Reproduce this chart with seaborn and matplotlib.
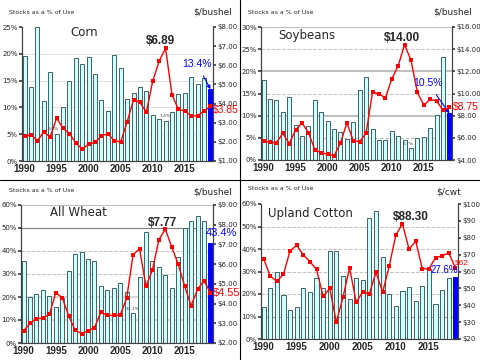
import matplotlib
matplotlib.use('Agg')
import matplotlib.pyplot as plt
import numpy as np
import seaborn as sns
from matplotlib.lines import Line2D


years = list(range(1990, 2020))

corn_stocks = [19.5, 13.8, 25.0, 11.2, 16.6, 5.0, 10.0, 15.0, 19.2, 18.1,
               19.4, 16.3, 11.4, 9.4, 19.8, 17.3, 11.6, 12.7, 13.8, 13.1,
               8.6, 7.9, 7.4, 9.1, 12.5, 12.7, 15.6, 14.4, 15.5, 13.4]
corn_price = [2.28, 2.37, 2.07, 2.50, 2.26, 3.24, 2.71, 2.43, 1.94, 1.62,
              1.88, 1.97, 2.32, 2.42, 2.06, 2.00, 3.04, 4.20, 4.06, 3.55,
              5.18, 6.22, 6.89, 4.46, 3.70, 3.61, 3.36, 3.36, 3.61, 3.85]

soy_stocks = [18.0, 13.8, 13.6, 10.9, 14.3, 8.0, 5.5, 7.7, 13.6, 10.8,
              8.9, 7.1, 6.4, 4.7, 8.6, 15.9, 18.7, 6.9, 4.6, 4.6,
              6.6, 5.5, 4.6, 2.7, 5.0, 5.1, 7.3, 10.2, 23.2, 10.5]
soy_price = [5.74, 5.58, 5.56, 6.40, 5.48, 6.72, 7.35, 6.47, 4.93, 4.63,
             4.54, 4.38, 5.53, 7.34, 5.74, 5.66, 6.43, 10.10, 9.97, 9.59,
             11.30, 12.50, 14.40, 13.00, 10.10, 8.95, 9.47, 9.33, 8.48, 8.75]

wheat_stocks = [35.7, 19.8, 21.4, 23.1, 20.5, 15.8, 19.5, 31.4, 38.7, 39.6,
                36.4, 35.7, 24.7, 23.1, 24.0, 26.0, 22.2, 13.1, 28.8, 48.3,
                35.7, 33.1, 29.6, 24.0, 37.4, 50.0, 52.9, 55.2, 52.9, 43.4]
wheat_price = [2.61, 3.00, 3.24, 3.26, 3.45, 4.55, 4.30, 3.38, 2.65, 2.48,
               2.62, 2.78, 3.56, 3.40, 3.40, 3.42, 4.26, 6.48, 6.78, 4.87,
               5.70, 7.24, 7.77, 6.87, 5.99, 4.89, 3.89, 4.72, 5.16, 4.55]

cotton_stocks = [14.3, 22.7, 29.9, 19.4, 12.8, 14.2, 22.7, 20.9, 27.2, 22.7,
                 39.1, 39.1, 28.1, 17.8, 27.2, 26.1, 53.9, 57.0, 36.6, 20.0,
                 14.5, 21.3, 23.0, 16.9, 23.4, 30.9, 15.4, 21.8, 27.2, 27.6]
cotton_price = [67.6, 57.2, 54.2, 58.4, 72.3, 75.5, 69.8, 65.8, 61.2, 45.3,
                50.0, 30.0, 44.7, 62.2, 41.7, 48.0, 46.9, 59.6, 47.7, 63.2,
                81.7, 88.3, 73.1, 78.1, 61.6, 61.6, 68.2, 69.2, 71.1, 62.0]

year_ticks = [1990, 1995, 2000, 2005, 2010, 2015]

W, H = 480, 360
ARIAL = 'Liberation Sans'


def fpos(x, y):
    return x / W, 1 - y / H


def draw_panel(fig, rect, stocks, price, smax, sstep, plim, pstep, pfmt, grids):
    ax = fig.add_axes(rect)
    ax.set_axisbelow(True)
    for val, style, col, lw in grids:
        ax.axhline(val, color=col, linestyle=style, linewidth=lw, zorder=0.5)
    sns.barplot(x=years, y=stocks, native_scale=True, width=0.62,
                color='#ccffff', saturation=1, edgecolor='#3f6262',
                linewidth=0.7, ax=ax)
    last = ax.patches[-1]
    last.set_facecolor('#0000ff')
    last.set_edgecolor('#0000ff')
    ax.set_xlim(1989.6, 2019.4)
    ax.set_ylim(0, smax)
    ax.set_yticks(np.arange(0, smax + 0.1, sstep))
    ax.set_yticklabels([f'{int(v)}%' for v in np.arange(0, smax + 0.1, sstep)])
    ax.set_xticks(year_ticks)
    ax.set_xticklabels([str(y) for y in year_ticks], fontweight='bold',
                       fontsize=7, family=ARIAL)
    ax.set_xticks(years, minor=True)
    ax.tick_params(axis='y', labelsize=5, length=2, pad=1, color='#404040')
    ax.tick_params(axis='x', which='both', length=2, pad=0.5, color='#404040')
    ax.set_xlabel('')
    ax.set_ylabel('')

    ax2 = ax.twinx()
    sns.lineplot(x=years, y=price, ax=ax2, color='#ff0000', marker='s',
                 markersize=2.2, markeredgewidth=0, linewidth=1.0)
    ax2.set_ylim(*plim)
    pt = np.arange(plim[0], plim[1] + 0.01, pstep)
    ax2.set_yticks(pt)
    ax2.set_yticklabels([pfmt.format(v) for v in pt])
    ax2.tick_params(axis='y', labelsize=5, length=2, pad=1, color='#404040')
    ax2.set_ylabel('')
    ax2.set_xlabel('')
    for a in (ax, ax2):
        a.spines['top'].set_visible(False)
        for s in ('left', 'right', 'bottom'):
            a.spines[s].set_color('#404040')
            a.spines[s].set_linewidth(0.8)
    return ax, ax2


def label(fig, x, y, s, **kw):
    fx, fy = fpos(x, y)
    fig.text(fx, fy, s, ha=kw.pop('ha', 'center'), va='center', **kw)


def blue_arrow(ax, s, y, x, ty):
    ax.annotate(s, xy=(2019, y), xytext=fpos(x, ty),
                textcoords='figure fraction', ha='center', va='center',
                fontsize=7.5, color='#0000ff', family=ARIAL,
                arrowprops=dict(arrowstyle='-|>', color='#0000ff', lw=0.8,
                                mutation_scale=5, shrinkA=3, shrinkB=0))


sns.set_theme(style='white')
plt.rcParams['font.family'] = ['DejaVu Sans']

fig = plt.figure(figsize=(4.8, 3.6), dpi=100)

light = '#d9d9d9'
gray = '#c0c0c0'
peak = dict(fontsize=8.5, fontweight='bold', family=ARIAL)
red = dict(color='#ff0000', family=ARIAL)

# corn
ax, ax2 = draw_panel(fig, [22 / W, 1 - 161 / H, 191 / W, 134 / H],
                     corn_stocks, corn_price, 25, 5, (1, 8), 1, '${:.2f}',
                     [(v, '-', light, 0.6) for v in (5, 10, 15, 20)])
label(fig, 9, 12, 'Stocks as a % of Use', ha='left', fontsize=4.5)
label(fig, 213, 12, '$/bushel', fontsize=6.5)
label(fig, 84, 33, 'Corn', fontsize=8.5)
label(fig, 160, 41, '$6.89', **peak)
label(fig, 226, 110, '$3.85', fontsize=7.5, **red)
label(fig, 53, 129, '5.0%', fontsize=3.2, color='#404040')
label(fig, 165, 116, '7.4%', fontsize=3.2, color='#404040')
blue_arrow(ax, '13.4%', 13.4, 197, 64)

# soybeans
ax, ax2 = draw_panel(fig, [261 / W, 1 - 160 / H, 191 / W, 133 / H],
                     soy_stocks, soy_price, 30, 5, (4, 16), 2, '${:.2f}',
                     [(5, '--', gray, 0.7), (10, '-', gray, 1.5),
                      (15, '--', gray, 0.7), (20, '-', gray, 1.5),
                      (25, '--', gray, 0.7), (30, '-', gray, 1.5)])
label(fig, 248, 12, 'Stocks as a % of Use', ha='left', fontsize=4.5)
label(fig, 453, 12, '$/bushel', fontsize=6.5)
label(fig, 307, 36, 'Soybeans', fontsize=8.5)
label(fig, 402, 38, '$14.00', **peak)
label(fig, 466, 107, '$8.75', fontsize=7.5, **red)
label(fig, 408, 144, '2.7%', fontsize=3.2, color='#404040')
blue_arrow(ax, '10.5%', 10.5, 428, 83)

# wheat
ax, ax2 = draw_panel(fig, [21 / W, 1 - 343 / H, 192 / W, 138 / H],
                     wheat_stocks, wheat_price, 60, 10, (2, 9), 1, '${:.2f}',
                     [(10, '-', light, 1.5), (20, '-', light, 1.5),
                      (30, '--', gray, 0.7), (40, '--', gray, 0.7),
                      (50, '-', '#808080', 0.8), (60, '-', gray, 0.8)])
label(fig, 9, 191, 'Stocks as a % of Use', ha='left', fontsize=4.5)
label(fig, 213, 192, '$/bushel', fontsize=6.5)
label(fig, 78, 213, 'All Wheat', fontsize=8.5)
label(fig, 163, 223, '$7.77', **peak)
label(fig, 221, 233, '43.4%', fontsize=8, color='#0000ff', family=ARIAL)
label(fig, 227, 293, '$4.55', fontsize=8, **red)
label(fig, 132, 309, '13.1%', fontsize=3.2, color='#404040')

# cotton
ax, ax2 = draw_panel(fig, [261 / W, 1 - 339 / H, 197 / W, 135 / H],
                     cotton_stocks, cotton_price, 60, 10, (20, 100), 10, '${:.0f}',
                     [(10, '-', '#a0a0a0', 0.8)] +
                     [(v, '--', gray, 0.7) for v in (20, 30, 40, 50)])
label(fig, 248, 188, 'Stocks as a % of Use', ha='left', fontsize=4.5)
label(fig, 449, 192, '$/cwt', fontsize=6.5)
label(fig, 310, 214, 'Upland Cotton', fontsize=8.5)
label(fig, 411, 217, '$88.30', **peak)
label(fig, 444, 270, '27.6%', fontsize=7, color='#0000ff', family=ARIAL)
label(fig, 462, 263, '$62', fontsize=6, **red)

# panel separators
fig.add_artist(Line2D([0.5, 0.5], [0, 1], transform=fig.transFigure,
                      color='black', lw=0.8))
fig.add_artist(Line2D([0, 1], [0.5, 0.5], transform=fig.transFigure,
                      color='black', lw=0.8))

fig.savefig('out.png', dpi=100)
